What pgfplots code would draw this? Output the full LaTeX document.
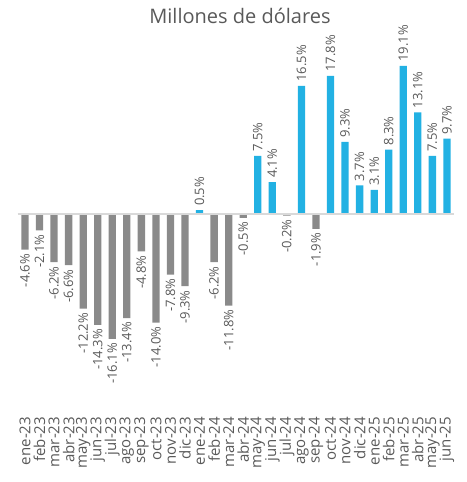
\documentclass[border=0pt]{standalone}
\usepackage{fontspec}
\setmainfont{Open Sans}
\usepackage{pgfplots}
\pgfplotsset{compat=1.18}
\definecolor{barblue}{HTML}{22B1E3}
\definecolor{bargray}{HTML}{8A8A8A}
\definecolor{txtgray}{HTML}{595959}
\definecolor{zeroline}{HTML}{D9D9D9}

% month-on-month change, in per cent
\pgfplotstableread{
x  y
12 0.5
16 7.5
17 4.1
19 16.5
21 17.8
22 9.3
23 3.7
24 3.1
25 8.3
26 19.1
27 13.1
28 7.5
29 9.7
}\pos
\pgfplotstableread{
x  y
0  -4.6
1  -2.1
2  -6.2
3  -6.6
4  -12.2
5  -14.3
6  -16.1
7  -13.4
8  -4.8
9  -14.0
10 -7.8
11 -9.3
13 -6.2
14 -11.8
15 -0.5
18 -0.2
20 -1.9
}\neg

\begin{document}
\begin{tikzpicture}[x=1pt,y=1pt]
\useasboundingbox (0,0) rectangle (466,482);
\node[text=txtgray, font=\fontsize{20}{24}\selectfont] at (240,466) {Millones de dólares};
\begin{axis}[
    at={(17.7pt,66.2pt)}, anchor=south west,
    scale only axis,
    width=436.5pt, height=357pt,
    xmin=-0.5, xmax=29.5,
    ymin=-26, ymax=20,
    axis line style={draw=none},
    tick style={draw=none},
    ytick=\empty,
    xtick={0,...,29},
    xticklabels={ene-23,feb-23,mar-23,abr-23,may-23,jun-23,jul-23,ago-23,sep-23,oct-23,nov-23,dic-23,
                 ene-24,feb-24,mar-24,abr-24,may-24,jun-24,jul-24,ago-24,sep-24,oct-24,nov-24,dic-24,
                 ene-25,feb-25,mar-25,abr-25,may-25,jun-25},
    xticklabel style={rotate=90, anchor=east, text=txtgray,
                      font=\fontsize{15}{17}\selectfont, inner sep=1pt},
    clip=false,
    /pgf/number format/assume math mode=true,
    nodes near coords={\pgfmathprintnumber[fixed,fixed zerofill,precision=1,assume math mode=true]{\pgfplotspointmeta}\%},
    every node near coord/.append style={rotate=90, text=txtgray,
                      font=\fontsize{13}{15}\selectfont, inner sep=4pt},
]
\addplot[ybar, bar width=7.3pt, fill=barblue, draw=none,
    every node near coord/.append style={anchor=west}] table[x=x,y=y] {\pos};
\addplot[ybar, bar width=7.3pt, fill=bargray, draw=none,
    every node near coord/.append style={anchor=east}] table[x=x,y=y] {\neg};
\draw[zeroline, line width=1.5pt] (axis cs:-0.5,0) -- (axis cs:29.5,0);
\end{axis}
\end{tikzpicture}
\end{document}
